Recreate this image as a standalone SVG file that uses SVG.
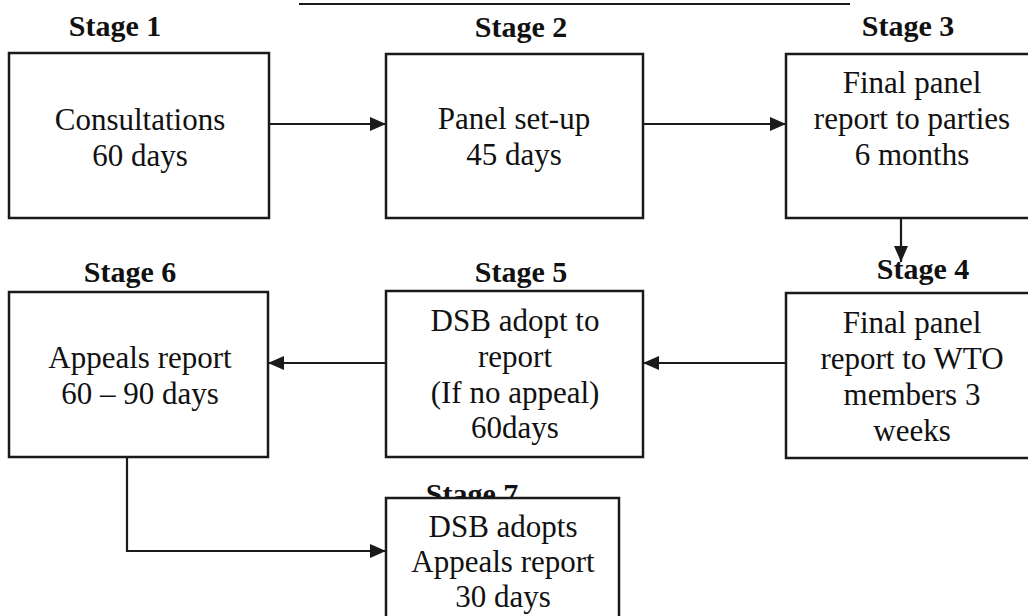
<svg xmlns="http://www.w3.org/2000/svg" width="1028" height="616" viewBox="0 0 1028 616">
<defs>
<style>
.box{fill:#fff;stroke:#1a1a1a;stroke-width:2.5}
.lbl{font-family:"Liberation Serif","Times New Roman",serif;font-weight:bold;font-size:30px;fill:#111;text-anchor:middle}
.txt{font-family:"Liberation Serif","Times New Roman",serif;font-size:31px;fill:#111;text-anchor:middle}
.con{fill:none;stroke:#1a1a1a;stroke-width:2.2}
</style>
<marker id="ah" viewBox="0 0 16 14" refX="16" refY="7" markerWidth="16" markerHeight="14" markerUnits="userSpaceOnUse" orient="auto">
<path d="M0,0 L16,7 L0,14 Z" fill="#1a1a1a"/>
</marker>
</defs>
<rect width="1028" height="616" fill="#fff"/>
<line x1="299" y1="4" x2="850" y2="4" stroke="#1a1a1a" stroke-width="2"/>

<g id="connectors">
<line class="con" x1="269" y1="124" x2="386" y2="124" marker-end="url(#ah)"/>
<line class="con" x1="643" y1="124" x2="786" y2="124" marker-end="url(#ah)"/>
<line class="con" x1="901" y1="218" x2="901" y2="262" marker-end="url(#ah)"/>
<line class="con" x1="786" y1="363" x2="643" y2="363" marker-end="url(#ah)"/>
<line class="con" x1="386" y1="363" x2="268" y2="363" marker-end="url(#ah)"/>
<polyline class="con" points="127,457 127,551 386,551" marker-end="url(#ah)"/>
</g>

<g id="stage1">
<text class="lbl" x="115" y="36">Stage 1</text>
<rect class="box" x="9" y="53" width="260" height="165"/>
<text class="txt" x="140" y="130">Consultations</text>
<text class="txt" x="140" y="166">60 days</text>
</g>

<g id="stage2">
<text class="lbl" x="521" y="37">Stage 2</text>
<rect class="box" x="386" y="54" width="257" height="164"/>
<text class="txt" x="514" y="129">Panel set-up</text>
<text class="txt" x="514" y="165">45 days</text>
</g>

<g id="stage3">
<text class="lbl" x="908" y="36">Stage 3</text>
<rect class="box" x="786" y="54" width="260" height="164"/>
<text class="txt" x="912" y="93">Final panel</text>
<text class="txt" x="912" y="129">report to parties</text>
<text class="txt" x="912" y="165">6 months</text>
</g>

<g id="stage4">
<text class="lbl" x="923" y="279">Stage 4</text>
<rect class="box" x="786" y="293" width="260" height="165"/>
<text class="txt" x="912" y="333">Final panel</text>
<text class="txt" x="912" y="369">report to WTO</text>
<text class="txt" x="912" y="405">members 3</text>
<text class="txt" x="912" y="441">weeks</text>
</g>

<g id="stage5">
<text class="lbl" x="521" y="282">Stage 5</text>
<rect class="box" x="386" y="291" width="257" height="166"/>
<text class="txt" x="515" y="331">DSB adopt to</text>
<text class="txt" x="515" y="367">report</text>
<text class="txt" x="515" y="403">(If no appeal)</text>
<text class="txt" x="515" y="438">60days</text>
</g>

<g id="stage6">
<text class="lbl" x="130" y="282">Stage 6</text>
<rect class="box" x="9" y="292" width="259" height="165"/>
<text class="txt" x="140" y="368">Appeals report</text>
<text class="txt" x="140" y="404">60 – 90 days</text>
</g>

<g id="stage7">
<text class="lbl" x="472" y="504">Stage 7</text>
<rect class="box" x="386" y="498" width="233" height="130"/>
<text class="txt" x="503" y="537">DSB adopts</text>
<text class="txt" x="503" y="572">Appeals report</text>
<text class="txt" x="503" y="607">30 days</text>
</g>
</svg>
